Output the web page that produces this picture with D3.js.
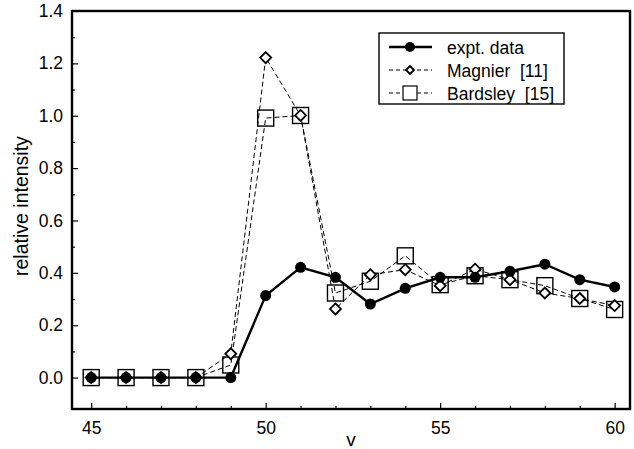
<!DOCTYPE html>
<html>
<head>
<meta charset="utf-8">
<script src="https://cdn.jsdelivr.net/npm/d3@7"></script>
<style>
  body { margin: 0; background: #fff; }
  svg { display: block; }
  text { font-family: "Liberation Sans", Arial, sans-serif; fill: #000; }
</style>
</head>
<body>
<svg id="chart" width="634" height="449"></svg>
<script>
// Data
const levels = [45, 46, 47, 48, 49, 50, 51, 52, 53, 54, 55, 56, 57, 58, 59, 60];
const expt = [0, 0, 0, 0, 0, 0.313, 0.421, 0.383, 0.281, 0.341, 0.383, 0.383, 0.406, 0.433, 0.374, 0.346];
const magnier = [0, 0, 0, 0, 0.091, 1.222, 1.001, 0.262, 0.393, 0.412, 0.351, 0.414, 0.374, 0.323, 0.302, 0.275];
const bardsley = [0, 0, 0, 0, 0.048, 0.991, 1.001, 0.323, 0.368, 0.465, 0.355, 0.389, 0.374, 0.351, 0.302, 0.26];
const xTicks = [45, 50, 55, 60];
const yTicks = [0, 0.2, 0.4, 0.6, 0.8, 1.0, 1.2, 1.4];
const legendLabels = ["expt. data", "Magnier  [11]", "Bardsley  [15]"];

const frame = { left: 72, top: 11, right: 630, bottom: 409 };

const svg = d3.select("#chart");

const x = d3.scaleLinear().domain([44.45, 60.44]).range([frame.left, frame.right]);
const y = d3.scaleLinear().domain([-0.12, 1.4]).range([frame.bottom, frame.top]);

// Axes: ticks point inward
const xAxis = d3.axisBottom(x).tickValues(xTicks).tickSize(-6).tickPadding(13).tickFormat(d3.format("d"));
const xMinor = d3.axisBottom(x).tickValues(levels.filter(v => !xTicks.includes(v))).tickSize(-3).tickFormat("");
const yAxis = d3.axisLeft(y).tickValues(yTicks).tickSize(-6).tickPadding(9).tickFormat(d3.format(".1f"));
const yMinor = d3.axisLeft(y).tickValues(d3.range(0.1, 1.4, 0.2)).tickSize(-3).tickFormat("");

function styleAxis(g) {
  g.select(".domain").remove();
  g.selectAll(".tick line").attr("stroke", "#000").attr("stroke-width", 1.2);
  g.selectAll("text").style("font-size", "17.5px").attr("fill", "#000");
}

svg.append("g").attr("transform", `translate(0,${frame.bottom})`).call(xAxis).call(styleAxis);
svg.append("g").attr("transform", `translate(0,${frame.bottom})`).call(xMinor).call(styleAxis);
svg.append("g").attr("transform", `translate(${frame.left},0)`).call(yAxis).call(styleAxis);
svg.append("g").attr("transform", `translate(${frame.left},0)`).call(yMinor).call(styleAxis);

// Frame
svg.append("rect")
  .attr("x", frame.left).attr("y", frame.top)
  .attr("width", frame.right - frame.left).attr("height", frame.bottom - frame.top)
  .attr("fill", "none").attr("stroke", "#000").attr("stroke-width", 2.4);

// Axis titles
svg.append("text")
  .attr("transform", `translate(28,${y(0.655)}) rotate(-90)`)
  .attr("text-anchor", "middle")
  .style("font-size", "19.5px")
  .text("relative intensity");

svg.append("text")
  .attr("x", (frame.left + frame.right) / 2).attr("y", 446)
  .attr("text-anchor", "middle")
  .style("font-size", "19px")
  .text("v");

const line = d3.line().x((d, i) => x(levels[i])).y(d => y(d));

// Bardsley (squares)
svg.append("path").datum(bardsley).attr("d", line)
  .attr("fill", "none").attr("stroke", "#000").attr("stroke-width", 1).attr("stroke-dasharray", "5,3");
svg.selectAll(".sq").data(bardsley).enter().append("rect")
  .attr("class", "sq")
  .attr("x", (d, i) => x(levels[i]) - 8).attr("y", d => y(d) - 8)
  .attr("width", 16).attr("height", 16)
  .attr("fill", "none").attr("stroke", "#000").attr("stroke-width", 1.4);

// Magnier (diamonds)
svg.append("path").datum(magnier).attr("d", line)
  .attr("fill", "none").attr("stroke", "#000").attr("stroke-width", 1).attr("stroke-dasharray", "5,3");
svg.selectAll(".dm").data(magnier).enter().append("path")
  .attr("class", "dm")
  .attr("transform", (d, i) => `translate(${x(levels[i])},${y(d)})`)
  .attr("d", "M0,-5.5L5.5,0L0,5.5L-5.5,0Z")
  .attr("fill", "#fff").attr("stroke", "#000").attr("stroke-width", 1.8);

// Experimental data (filled circles)
svg.append("path").datum(expt).attr("d", line)
  .attr("fill", "none").attr("stroke", "#000").attr("stroke-width", 2.4);
svg.selectAll(".dot").data(expt).enter().append("circle")
  .attr("class", "dot")
  .attr("cx", (d, i) => x(levels[i])).attr("cy", d => y(d))
  .attr("r", 5.5).attr("fill", "#000");

// Legend
const legend = svg.append("g");
legend.append("rect")
  .attr("x", 379).attr("y", 33).attr("width", 185).attr("height", 71)
  .attr("fill", "#fff").attr("stroke", "#000").attr("stroke-width", 1.4);

const rowY = [47, 70, 93];
const styles = [
  { dash: null, width: 2.4 },
  { dash: "4,3", width: 1 },
  { dash: "4,3", width: 1 }
];
legendLabels.forEach((label, i) => {
  const g = legend.append("g").attr("transform", `translate(0,${rowY[i]})`);
  g.append("line").attr("x1", 389).attr("x2", 432).attr("y1", 0).attr("y2", 0)
    .attr("stroke", "#000").attr("stroke-width", styles[i].width)
    .attr("stroke-dasharray", styles[i].dash);
  const cx = 410;
  if (i === 0) {
    g.append("circle").attr("cx", cx).attr("r", 5).attr("fill", "#000");
  } else if (i === 1) {
    g.append("path").attr("transform", `translate(${cx},0)`).attr("d", "M0,-4L4,0L0,4L-4,0Z")
      .attr("fill", "#fff").attr("stroke", "#000").attr("stroke-width", 1.8);
  } else {
    g.append("rect").attr("x", cx - 7).attr("y", -7).attr("width", 14).attr("height", 14)
      .attr("fill", "#fff").attr("stroke", "#000").attr("stroke-width", 1.2);
  }
  g.append("text").attr("x", 447).attr("y", 6.5)
    .attr("xml:space", "preserve").style("white-space", "pre")
    .style("font-size", "17.5px").text(label);
});
</script>
</body>
</html>
